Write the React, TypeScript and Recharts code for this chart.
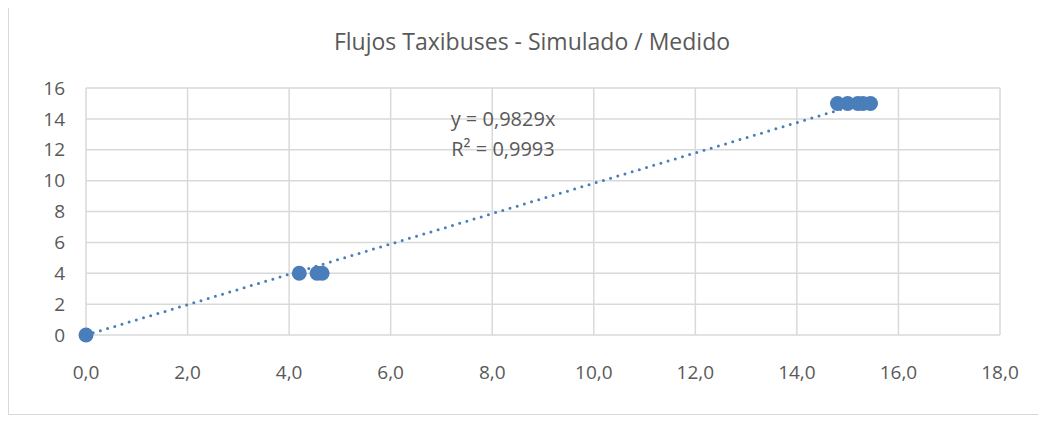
import { ScatterChart, Scatter, XAxis, YAxis, CartesianGrid, ReferenceLine } from 'recharts';

// Simulado (x) vs Medido (y)
const simulado = [0, 4.2, 4.55, 4.65, 14.8, 15.0, 15.2, 15.3, 15.45];
const medido = [0, 4, 4, 4, 15, 15, 15, 15, 15];
const xTicks = [0, 2, 4, 6, 8, 10, 12, 14, 16, 18];
const yTicks = [0, 2, 4, 6, 8, 10, 12, 14, 16];
const slope = 0.9829;
const r2 = 0.9993;

const title = 'Flujos Taxibuses - Simulado / Medido';
const font = '"Open Sans", sans-serif';

export default function App() {
  const points = simulado.map((x, i) => ({ x, y: medido[i] }));
  const xMax = Math.max(...simulado);
  const fmt = (n: number) => n.toFixed(4).replace('.', ',');

  return (
    <div
      style={{
        position: 'relative',
        width: 1040,
        height: 411,
        marginTop: -4,
        border: '1px solid #d9d9d9',
        boxSizing: 'border-box',
        fontFamily: font,
        background: '#fff',
      }}
    >
      <div
        style={{
          position: 'absolute',
          left: 0,
          width: 1046,
          top: 20,
          textAlign: 'center',
          fontSize: 23,
          color: '#595959',
        }}
      >
        {title}
      </div>
      <ScatterChart
        width={1038}
        height={409}
        margin={{ top: 84, right: 46, bottom: 48, left: 38 }}
        style={{ position: 'absolute', left: -1, top: -1 }}
      >
        <CartesianGrid stroke="#d9d9d9" strokeWidth={1.5} />
        <XAxis
          type="number"
          dataKey="x"
          domain={[0, 18]}
          ticks={xTicks}
          tickFormatter={(v: number) => v.toFixed(1).replace('.', ',')}
          axisLine={false}
          tickLine={false}
          tickSize={0}
          tickMargin={31}
          height={30}
          tick={{ fill: '#595959', fontSize: 19, fontFamily: font }}
        />
        <YAxis
          type="number"
          dataKey="y"
          domain={[0, 16]}
          ticks={yTicks}
          axisLine={false}
          tickLine={false}
          tickSize={0}
          tickMargin={21}
          width={40}
          tick={{ fill: '#595959', fontSize: 19, fontFamily: font }}
        />
        <ReferenceLine
          segment={[
            { x: 0, y: 0 },
            { x: xMax, y: slope * xMax },
          ]}
          stroke="#4a7ebb"
          strokeWidth={3}
          strokeDasharray="0 7.5"
          strokeLinecap="round"
        />
        <Scatter
          data={points}
          fill="#4a7ebb"
          isAnimationActive={false}
          shape={(p: any) => <ellipse cx={p.cx} cy={p.cy} rx={7.5} ry={7.5} fill="#4a7ebb" />}
        />
      </ScatterChart>
      {/* trendline equation, drawn over the grid */}
      <div
        style={{
          position: 'absolute',
          left: 384,
          width: 220,
          top: 99,
          textAlign: 'center',
          fontSize: 20,
          lineHeight: '30px',
          color: '#595959',
          zIndex: 1,
        }}
      >
        <div>y = {fmt(slope)}x</div>
        <div>R² = {fmt(r2)}</div>
      </div>
    </div>
  );
}
